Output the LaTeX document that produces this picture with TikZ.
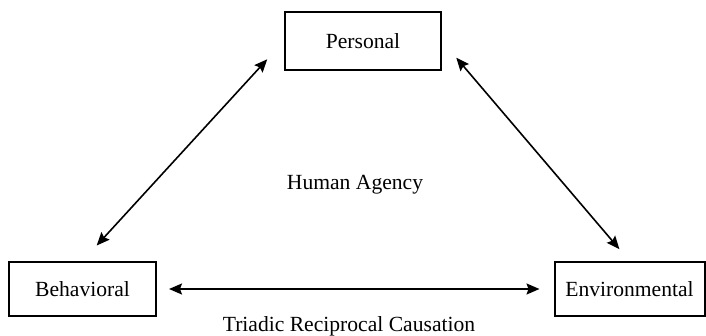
\documentclass[tikz,border=0pt]{standalone}
\usepackage{fontspec}
\setmainfont{Liberation Serif}
\usetikzlibrary{arrows.meta}

\tikzset{
    factor/.style={draw, line width=1pt, inner sep=0pt, align=center},
    link/.style={line width=0.8pt, {Stealth[length=6.5pt,width=5.5pt,inset=1pt]}-{Stealth[length=6.5pt,width=5.5pt,inset=1pt]}}
}

\begin{document}
\begin{tikzpicture}[x=0.5pt, y=-0.5pt, font=\fontsize{10.8}{13}\selectfont]
    \useasboundingbox (0,0) rectangle (706,336);

    % Personal (top)
    \node[factor, minimum width=78pt, minimum height=29pt] (pers) at (363,41) {Personal};

    % Behavioral (left) and Environmental (right)
    \node[factor, minimum width=73.5pt, minimum height=27pt] (beh) at (82.5,289) {Behavioral};
    \node[factor, minimum width=75pt, minimum height=27pt] (env) at (629.5,289) {Environmental};

    % reciprocal links
    \draw[link, shorten <=10.5pt, shorten >=12.4pt] (beh.north) -- (pers.west);
    \draw[link, shorten <=11pt, shorten >=7.8pt] (pers.east) -- (env.north);
    \draw[link, shorten <=6pt, shorten >=7pt] (beh.east) -- (env.west);

    % labels
    \node (agency) at (355,185) {Human Agency};
    \node (triad) at (349,326) {Triadic Reciprocal Causation};
\end{tikzpicture}
\end{document}
